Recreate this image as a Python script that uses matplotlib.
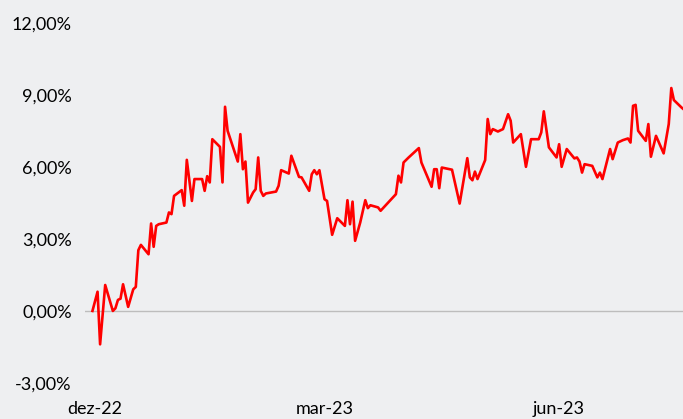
import numpy as np
import pandas as pd
import matplotlib.pyplot as plt
import matplotlib.dates as mdates
from matplotlib.ticker import FuncFormatter

# days after 2022-12-01 and cumulative return (%)
days = [-1, 1, 2, 4, 7, 8, 9, 10, 11, 13, 15, 16, 17, 18, 21, 22, 23, 24, 25, 28, 29, 30,
        31, 34, 35, 36, 38, 39, 42, 43, 44, 45, 46, 49, 50, 51, 52, 56, 57, 58, 59, 60,
        62, 63, 64, 65, 66, 67, 71, 72, 73, 76, 77, 80, 81, 84, 85, 86, 87, 88, 90, 91,
        93, 95, 98, 99, 100, 101, 102, 104, 106, 107, 108, 111, 112, 118, 119, 120, 121,
        123, 127, 128, 132, 133, 134, 135, 136, 140, 143, 146, 147, 148, 149, 150, 153,
        154, 155, 156, 158, 160, 162, 163, 164, 167, 169, 171, 174, 175, 176, 178, 181,
        182, 183, 185, 188, 189, 190, 191, 192, 195, 197, 198, 199, 202, 203, 205, 207,
        209, 210, 211, 212, 213, 216, 217, 218, 220, 223, 225, 226, 227, 230, 231]
returns = [0.00, 0.80, -1.39, 1.08, 0.00, 0.11, 0.46, 0.51, 1.11, 0.17, 0.90, 1.00, 2.53,
           2.75, 2.36, 3.64, 2.67, 3.54, 3.61, 3.68, 4.10, 4.03,
           4.79, 5.03, 4.38, 6.29, 4.58, 5.49, 5.49, 5.00, 5.61, 5.35, 7.15, 6.83, 5.35,
           8.50, 7.50, 6.22, 7.36, 5.90, 6.22, 4.51,
           4.93, 5.07, 6.39, 5.00, 4.79, 4.89, 4.97, 5.21, 5.86, 5.72, 6.46, 5.58, 5.56,
           5.00, 5.69, 5.86, 5.69, 5.86, 4.65, 4.58,
           3.17, 3.86, 3.54, 4.61, 3.61, 4.55, 2.92, 3.68, 4.61, 4.28, 4.40, 4.31, 4.17,
           4.86, 5.63, 5.35, 6.18,
           6.39, 6.78, 6.18, 5.17, 5.90, 5.90, 5.11, 5.97, 5.88, 4.47, 6.36, 5.56, 5.44,
           5.80, 5.49, 6.28,
           7.99, 7.36, 7.57, 7.47, 7.57, 8.19, 7.92, 7.01, 7.36, 6.00, 7.15, 7.15, 7.43,
           8.31, 6.81, 6.39,
           6.94, 6.00, 6.74, 6.35, 6.39, 6.22, 5.76, 6.11, 6.04, 5.56, 5.76, 5.49, 6.74,
           6.32, 7.01, 7.11,
           7.18, 7.01, 8.54, 8.58, 7.50, 7.08, 7.78, 6.42, 7.29, 6.56, 7.78, 9.28, 8.78,
           8.47, 8.38]
tick_dates = ['2022-12-01', '2023-03-01', '2023-06-01']
tick_labels = ['dez-22', 'mar-23', 'jun-23']
yticks = [-3, 0, 3, 6, 9, 12]

start = pd.Timestamp('2022-12-01')
dates = [start + pd.Timedelta(days=d) for d in days]

bg = '#EEEFF1'
plt.rcParams['font.family'] = ['Lato', 'DejaVu Sans']

fig = plt.figure(figsize=(6.83, 4.19), dpi=100, facecolor=bg)
ax = fig.add_axes([85 / 683, 1 - 383 / 419, 1 - 85 / 683, (383 - 22.7) / 419])
ax.set_facecolor(bg)

ax.axhline(0, color='#BDBDBD', lw=1.0, zorder=1)
ax.plot(dates, returns, color='#FF0000', lw=1.9, zorder=2)

x0 = mdates.date2num(start) - 10 / 2.55
ax.set_xlim(x0, x0 + 598 / 2.55)
ax.set_ylim(-3, 12)

ax.set_yticks(yticks)
ax.yaxis.set_major_formatter(FuncFormatter(lambda v, p: f'{v:.2f}%'.replace('.', ',')))
ax.set_xticks([mdates.date2num(pd.Timestamp(t)) for t in tick_dates])
ax.set_xticklabels(tick_labels)

ax.tick_params(axis='both', length=0, labelsize=13, colors='#000000')
ax.tick_params(axis='y', pad=9.5)
ax.tick_params(axis='x', pad=13)
for s in ax.spines.values():
    s.set_visible(False)

fig.savefig('out.png', dpi=100, facecolor=bg)
